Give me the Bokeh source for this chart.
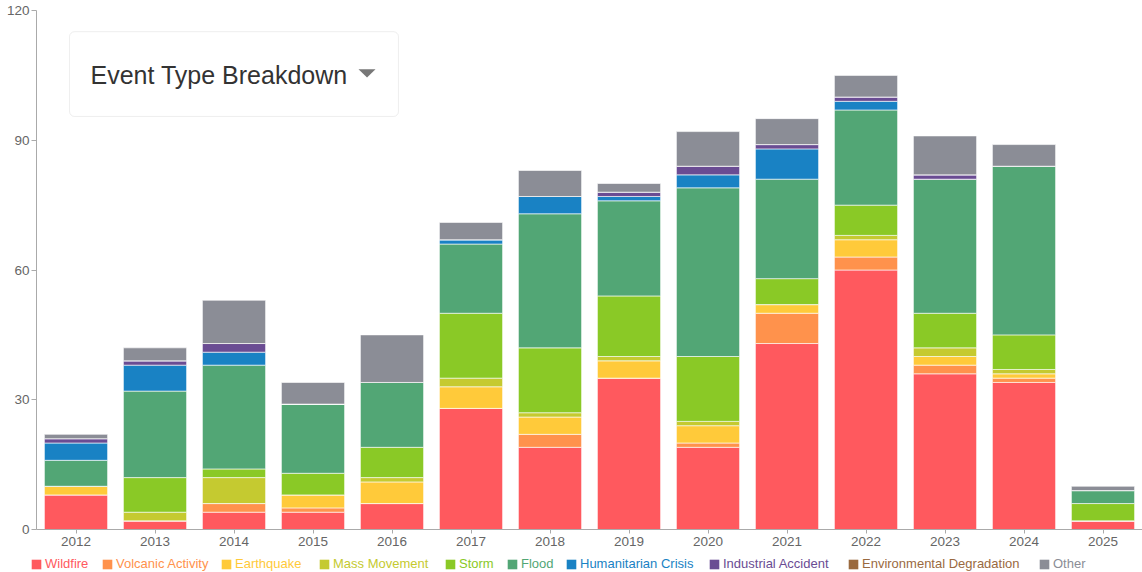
from bokeh.plotting import figure
from bokeh.layouts import column
from bokeh.models import (FactorRange, Range1d, FixedTicker, Legend, LegendItem,
                          BoxAnnotation, Label, PolyAnnotation)
from bokeh.embed import file_html
from bokeh.resources import INLINE

years = ["2012", "2013", "2014", "2015", "2016", "2017", "2018", "2019",
         "2020", "2021", "2022", "2023", "2024", "2025"]

series_names = ["Wildfire", "Volcanic Activity", "Earthquake", "Mass Movement",
                "Storm", "Flood", "Humanitarian Crisis", "Industrial Accident",
                "Environmental Degradation", "Other"]

wildfire      = [8, 2, 4, 4, 6, 28, 19, 35, 19, 43, 60, 36, 34, 2]
volcanic      = [0, 0, 2, 1, 0, 0, 3, 0, 1, 7, 3, 2, 1, 0]
earthquake    = [2, 0, 0, 3, 5, 5, 4, 4, 4, 2, 4, 2, 1, 0]
mass_movement = [0, 2, 6, 0, 1, 2, 1, 1, 1, 0, 1, 2, 1, 0]
storm         = [0, 8, 2, 5, 7, 15, 15, 14, 15, 6, 7, 8, 8, 4]
flood         = [6, 20, 24, 16, 15, 16, 31, 22, 39, 23, 22, 31, 39, 3]
humanitarian  = [4, 6, 3, 0, 0, 1, 4, 1, 3, 7, 2, 0, 0, 0]
industrial    = [1, 1, 2, 0, 0, 0, 0, 1, 2, 1, 1, 1, 0, 0]
environmental = [0, 0, 0, 0, 0, 0, 0, 0, 0, 0, 0, 0, 0, 0]
other         = [1, 3, 10, 5, 11, 4, 6, 2, 8, 6, 5, 9, 5, 1]

y_ticks = [0, 30, 60, 90, 120]

colors = ["#ff595e", "#ff924c", "#ffca3a", "#c5ca30", "#8ac926", "#52a675",
          "#1982c4", "#6a4c93", "#9a6a3f", "#8b8d96"]

keys = ["wildfire", "volcanic", "earthquake", "mass_movement", "storm", "flood",
        "humanitarian", "industrial", "environmental", "other"]
data = dict(years=years, wildfire=wildfire, volcanic=volcanic, earthquake=earthquake,
            mass_movement=mass_movement, storm=storm, flood=flood,
            humanitarian=humanitarian, industrial=industrial,
            environmental=environmental, other=other)

FONT = "Liberation Sans"
W = 1142
FRAME_LEFT = 36

p = figure(x_range=FactorRange(*years, range_padding=0), y_range=Range1d(0, 120),
           width=W, height=552, output_backend="svg", toolbar_location=None,
           min_border_left=FRAME_LEFT, min_border_right=0, min_border_top=10,
           min_border_bottom=23)

renderers = p.vbar_stack(keys, x="years", width=0.8, color=colors, source=data,
                         line_color="white", line_width=1, line_alpha=0.6)

p.outline_line_color = None
p.xgrid.visible = False
p.ygrid.visible = False
p.background_fill_color = "white"
p.border_fill_color = "white"

for ax in (p.xaxis[0], p.yaxis[0]):
    ax.axis_line_color = "#aaaaaa"
    ax.major_tick_line_color = "#aaaaaa"
    ax.minor_tick_line_color = None
    ax.major_tick_in = 0
    ax.major_label_text_font = FONT
    ax.major_label_text_font_size = "13.5px"
    ax.major_label_text_color = "#666666"

p.yaxis.ticker = FixedTicker(ticks=y_ticks)
p.yaxis.major_tick_out = 5
p.yaxis.major_label_standoff = 2
p.xaxis.major_tick_out = 4
p.xaxis.major_label_standoff = 3

# dropdown-like title box (placed in the bar chart's synthetic coordinates)
box = BoxAnnotation(left=0.418, right=4.582, bottom=95.5, top=115.1,
                    fill_color="white", fill_alpha=1, line_color="#c8c8c8",
                    line_width=1, border_radius=5)
p.add_layout(box)
p.add_layout(Label(x=0.684, y=105.0, text="Event Type Breakdown",
                   text_font=FONT, text_font_size="25px", text_color="#333333",
                   text_baseline="middle"))
p.add_layout(PolyAnnotation(xs=[4.076, 4.291, 4.184], ys=[106.4, 106.4, 104.5],
                            fill_color="#777777", fill_alpha=1, line_color=None))

# legend strip: one legend per item so each label carries its series colour
leg = figure(width=W, height=20, x_range=Range1d(0, W), y_range=Range1d(0, 20),
             output_backend="svg", toolbar_location=None,
             x_axis_type=None, y_axis_type=None,
             min_border_left=0, min_border_right=0, min_border_top=0,
             min_border_bottom=0)
leg.frame_align = False
leg.outline_line_color = None
leg.xgrid.visible = False
leg.ygrid.visible = False

legend_x = [30, 101, 220, 318, 444, 506, 565, 708, 847, 1038]
for name, c, lx in zip(series_names, colors, legend_x):
    # swatch renderer kept outside the visible range; only its legend glyph shows
    r = leg.quad(left=[-50], right=[-40], bottom=[-50], top=[-40],
                 fill_color=c, line_color=None)
    lg = Legend(items=[LegendItem(label=name, renderers=[r])],
                location=(lx, 1), orientation="horizontal",
                glyph_width=12, glyph_height=12, label_standoff=3,
                label_width=10, label_height=12, padding=0, margin=0, spacing=0,
                border_line_color=None, background_fill_alpha=0,
                label_text_font=FONT, label_text_font_size="13px",
                label_text_color=c)
    leg.add_layout(lg, "center")

layout = column(p, leg, spacing=0)
open("out.html", "w").write(file_html(layout, INLINE))
